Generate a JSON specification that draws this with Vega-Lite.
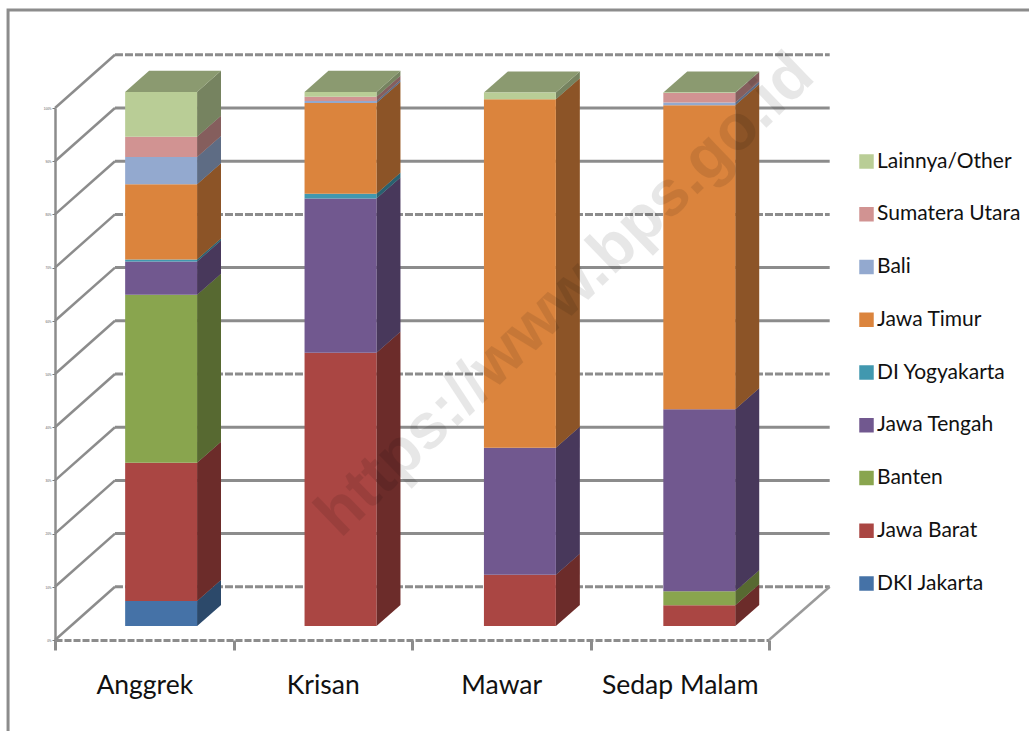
{
"$schema":"https://vega.github.io/schema/vega-lite/v6.json",
"width":714,"height":532,"autosize":"none",
"padding":{"left":55,"top":108,"right":260,"bottom":91},
"background":"white",
"config":{"view":{"stroke":null}},
"datasets":{
"bars":[
{"flower":"Anggrek","series":"DKI Jakarta","value":4.7},
{"flower":"Anggrek","series":"Jawa Barat","value":25.9},
{"flower":"Anggrek","series":"Banten","value":31.5},
{"flower":"Anggrek","series":"Jawa Tengah","value":6.2},
{"flower":"Anggrek","series":"DI Yogyakarta","value":0.4},
{"flower":"Anggrek","series":"Jawa Timur","value":14.1},
{"flower":"Anggrek","series":"Bali","value":5.1},
{"flower":"Anggrek","series":"Sumatera Utara","value":3.8},
{"flower":"Anggrek","series":"Lainnya/Other","value":8.4},
{"flower":"Krisan","series":"Jawa Barat","value":51.2},
{"flower":"Krisan","series":"Jawa Tengah","value":28.9},
{"flower":"Krisan","series":"DI Yogyakarta","value":0.9},
{"flower":"Krisan","series":"Jawa Timur","value":17.0},
{"flower":"Krisan","series":"Bali","value":0.4},
{"flower":"Krisan","series":"Sumatera Utara","value":0.8},
{"flower":"Krisan","series":"Lainnya/Other","value":0.9},
{"flower":"Mawar","series":"Jawa Barat","value":9.6},
{"flower":"Mawar","series":"Jawa Tengah","value":23.8},
{"flower":"Mawar","series":"Jawa Timur","value":65.3},
{"flower":"Mawar","series":"Lainnya/Other","value":1.3},
{"flower":"Sedap Malam","series":"Jawa Barat","value":3.9},
{"flower":"Sedap Malam","series":"Banten","value":2.6},
{"flower":"Sedap Malam","series":"Jawa Tengah","value":34.1},
{"flower":"Sedap Malam","series":"Jawa Timur","value":57.0},
{"flower":"Sedap Malam","series":"Bali","value":0.5},
{"flower":"Sedap Malam","series":"Sumatera Utara","value":1.8},
{"flower":"Sedap Malam","series":"Lainnya/Other","value":0.1}
],
"grid":[{"v":0},{"v":10},{"v":20},{"v":30},{"v":40},{"v":50},{"v":60},{"v":70},{"v":80},{"v":90},{"v":100}]
},
"encoding":{
"x":{"field":"xs","type":"quantitative","title":null,"scale":{"domain":[0,4],"nice":false,"zero":false},
 "axis":{"values":[0,0.5,1,1.5,2,2.5,3,3.5,4],"labelExpr":"['','Anggrek','','Krisan','','Mawar','','Sedap Malam',''][datum.value*2]","labelOverlap":false,"labelFlush":false,"labelFont":"Lato","labelFontSize":26.5,"labelColor":"#111","labelPadding":22,"labelAngle":0,"grid":false,"tickSize":10,"tickWidth":3,"tickColor":"#8c8c8c","tickOpacity":{"condition":{"test":"datum.value%1!=0","value":0},"value":1},"domainColor":"#8c8c8c","domainWidth":3,"domainDash":[7,2]}},
"y":{"field":"yb","type":"quantitative","title":null,"scale":{"domain":[0,100],"nice":false,"zero":false},
 "axis":{"values":[0,10,20,30,40,50,60,70,80,90,100],"format":"d","labelExpr":"datum.value+'%'","labelFontSize":3,"labelColor":"#555","labelPadding":1,"grid":false,"tickSize":3,"tickWidth":1,"tickColor":"#777","domainColor":"#8c8c8c","domainWidth":2.5}}
},
"layer":[
{"data":{"values":[{"xs":5.457,"yb":118.4},{"xs":-0.263,"yb":118.4},{"xs":-0.263,"yb":-17.1}]},
 "mark":{"type":"line","stroke":"#8c8c8c","strokeWidth":3,"clip":false,"interpolate":"linear"},
 "encoding":{"order":{"field":"yb","sort":"descending"}}},
{"data":{"name":"grid"},
 "transform":[{"calculate":"[0,0.336]","as":"xs"},{"calculate":"[datum.v,datum.v+10]","as":"yb"},{"flatten":["xs","yb"]}],
 "mark":{"type":"line","stroke":"#8c8c8c","strokeWidth":2.5},
 "encoding":{"detail":{"field":"v"}}},
{"data":{"name":"grid"},
 "transform":[{"calculate":"[0.336,4.34]","as":"xs"},{"calculate":"[datum.v+10,datum.v+10]","as":"yb"},{"flatten":["xs","yb"]}],
 "mark":{"type":"line","stroke":"#8c8c8c","strokeWidth":3},
 "encoding":{"detail":{"field":"v"},
  "strokeDash":{"condition":{"test":"indexof([0,40,70,100],datum.v)>=0","value":[8,2]},"value":[1,0]}}},
{"data":{"values":[{"xs":4,"yb":0},{"xs":4.34,"yb":10}]},
 "mark":{"type":"line","stroke":"#9a9a9a","strokeWidth":2.5}},
{"data":{"name":"bars"},
 "transform":[
  {"calculate":"indexof(['DKI Jakarta','Jawa Barat','Banten','Jawa Tengah','DI Yogyakarta','Jawa Timur','Bali','Sumatera Utara','Lainnya/Other'],datum.series)","as":"rank"},
  {"stack":"value","groupby":["flower"],"sort":[{"field":"rank","order":"ascending"}],"as":["s0","s1"]},
  {"calculate":"indexof(['Anggrek','Krisan','Mawar','Sedap Malam'],datum.flower)*1.005+0.393","as":"l"},
  {"calculate":"datum.l+0.403","as":"r"},
  {"calculate":"datum.s0*1.003+2.63","as":"b"},
  {"calculate":"datum.s1*1.003+2.63","as":"t"}
 ],
 "layer":[
  {"transform":[{"calculate":"[datum.r,datum.r+0.134]","as":"xs"},{"calculate":"[datum.b,datum.b+3.95]","as":"yb"},{"calculate":"[datum.t,datum.t+3.95]","as":"yt"},{"flatten":["xs","yb","yt"]}],
   "mark":{"type":"area","interpolate":"linear"},
   "encoding":{"y2":{"field":"yt"},"detail":{"field":"flower"},
    "color":{"field":"series","type":"nominal","scale":{"domain":["Lainnya/Other","Sumatera Utara","Bali","Jawa Timur","DI Yogyakarta","Jawa Tengah","Banten","Jawa Barat","DKI Jakarta"],"range":["#B9CD96","#D19392","#93A9CF","#DB843D","#4198AF","#71588F","#89A54E","#AA4643","#4572A7"]},
     "legend":{"title":null,"orient":"none","legendX":801,"legendY":43,"symbolType":"square","symbolSize":210,"symbolStrokeWidth":0,"labelFont":"Lato","labelFontSize":21,"labelColor":"#111","labelOffset":0,"rowPadding":30.75,"labelLimit":200}}}},
  {"transform":[{"calculate":"[datum.r,datum.r+0.134]","as":"xs"},{"calculate":"[datum.b,datum.b+3.95]","as":"yb"},{"calculate":"[datum.t,datum.t+3.95]","as":"yt"},{"flatten":["xs","yb","yt"]}],
   "mark":{"type":"area","color":"#000","opacity":0.36,"interpolate":"linear"},
   "encoding":{"y2":{"field":"yt"},"detail":[{"field":"flower"},{"field":"series"}]}},
  {"transform":[{"filter":"datum.series=='Lainnya/Other'"},{"calculate":"[datum.l,datum.l+0.134,datum.r,datum.r+0.134]","as":"xs"},{"calculate":"[datum.t,datum.t,datum.t,datum.t+3.95]","as":"yb"},{"calculate":"[datum.t,datum.t+3.95,datum.t+3.95,datum.t+3.95]","as":"yt"},{"flatten":["xs","yb","yt"]}],
   "mark":{"type":"area","color":"#8B9A70","opacity":1,"interpolate":"linear"},
   "encoding":{"y2":{"field":"yt"},"detail":{"field":"flower"}}},
  {"transform":[{"calculate":"datum.l","as":"xs"},{"calculate":"datum.b","as":"yb"}],
   "mark":{"type":"rect"},
   "encoding":{"x2":{"field":"r"},"y2":{"field":"t"},
    "color":{"field":"series","type":"nominal"}}}
 ]},
{"data":{"values":[{"xs":2.86,"yb":64.8,"label":"https://www.bps.go.id"}]},
 "mark":{"type":"text","font":"Liberation Sans","fontWeight":"bold","fontSize":64,"angle":316,"color":"#000","opacity":0.09,"align":"center","baseline":"middle"},
 "encoding":{"text":{"field":"label"}}}
]
}
